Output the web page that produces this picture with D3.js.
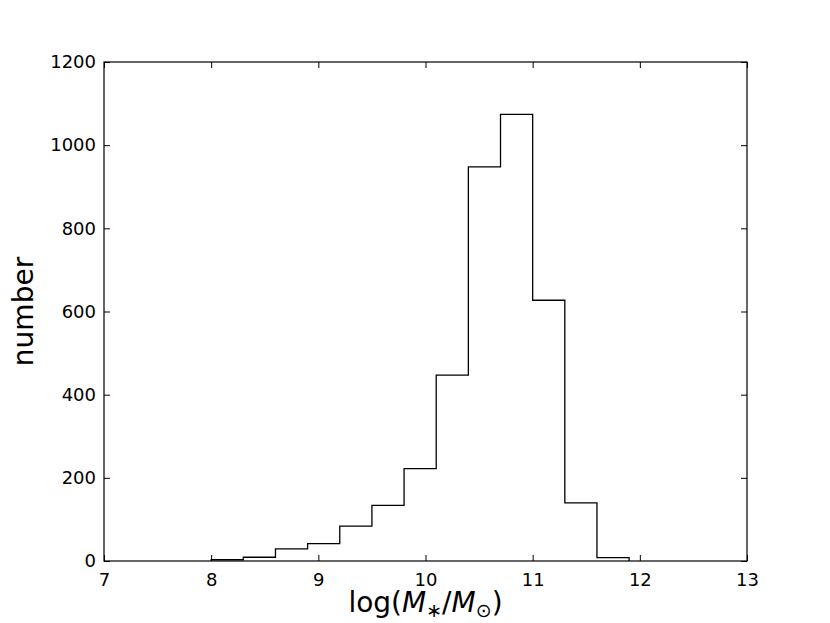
<!DOCTYPE html>
<html>
<head>
<meta charset="utf-8">
<script src="https://cdn.jsdelivr.net/npm/d3@7"></script>
<style>
  body { margin: 0; background: #fff; }
  svg { display: block; }
  text { font-family: "DejaVu Sans", sans-serif; fill: #000; }
</style>
</head>
<body>
<script>
// Histogram bin edges (log M*/Msun) and counts
const binEdges = [8.0, 8.3, 8.6, 8.9, 9.2, 9.5, 9.8, 10.1, 10.4, 10.7, 11.0, 11.3, 11.6, 11.9];
const counts   = [3, 9, 29, 42, 84, 134, 222, 447, 948, 1074, 627, 140, 8];
const xTicks = [7, 8, 9, 10, 11, 12, 13];
const yTicks = [0, 200, 400, 600, 800, 1000, 1200];
const xDomain = [7, 13];
const yDomain = [0, 1200];

const W = 830, H = 623;
const m = { left: 104, right: 83, top: 62, bottom: 62 };

const svg = d3.select("body").append("svg").attr("width", W).attr("height", H);

const x = d3.scaleLinear().domain(xDomain).range([m.left, W - m.right]);
const y = d3.scaleLinear().domain(yDomain).range([H - m.bottom, m.top]);

// Step histogram outline
const pts = [[binEdges[0], 0]];
counts.forEach((c, i) => {
  pts.push([binEdges[i], c]);
  pts.push([binEdges[i + 1], c]);
});
pts.push([binEdges[binEdges.length - 1], 0]);

svg.append("path")
  .attr("d", d3.line().x(d => x(d[0])).y(d => y(d[1]))(pts))
  .attr("fill", "none")
  .attr("stroke", "#000")
  .attr("stroke-width", 1.3)
  .attr("stroke-linejoin", "miter");

// Axes with inward ticks
const tickLen = 6;
const fmt = d3.format("d");
const axB = svg.append("g").attr("transform", `translate(0,${y(0)})`)
  .call(d3.axisBottom(x).tickValues(xTicks).tickFormat(fmt).tickSizeInner(-tickLen).tickSizeOuter(0).tickPadding(12));
const axT = svg.append("g").attr("transform", `translate(0,${y(1200)})`)
  .call(d3.axisTop(x).tickValues(xTicks).tickSizeInner(-tickLen).tickSizeOuter(0).tickFormat(""));
const axL = svg.append("g").attr("transform", `translate(${x(7)},0)`)
  .call(d3.axisLeft(y).tickValues(yTicks).tickFormat(fmt).tickSizeInner(-tickLen).tickSizeOuter(0).tickPadding(8));
const axR = svg.append("g").attr("transform", `translate(${x(13)},0)`)
  .call(d3.axisRight(y).tickValues(yTicks).tickSizeInner(-tickLen).tickSizeOuter(0).tickFormat(""));

[axB, axT, axL, axR].forEach(a => {
  a.select(".domain").remove();
  a.selectAll(".tick line").attr("stroke", "#000").attr("stroke-width", 1);
  a.selectAll("text").attr("font-size", 18).attr("font-family", "DejaVu Sans").attr("fill", "#000");
});

// Frame
svg.append("rect")
  .attr("x", x(7)).attr("y", y(1200))
  .attr("width", x(13) - x(7)).attr("height", y(0) - y(1200))
  .attr("fill", "none").attr("stroke", "#000").attr("stroke-width", 1.2);

// Y label
svg.append("text")
  .attr("transform", `translate(33,${(y(0) + y(1200)) / 2}) rotate(-90)`)
  .attr("text-anchor", "middle")
  .attr("font-size", 28)
  .text("number");

// X label: log(M_*/M_⊙)
const xl = svg.append("text")
  .attr("x", (x(7) + x(13)) / 2)
  .attr("y", 612)
  .attr("text-anchor", "middle")
  .attr("font-size", 28);
xl.append("tspan").text("log(");
xl.append("tspan").attr("font-style", "italic").text("M");
xl.append("tspan").attr("font-size", 19).attr("dy", 5).text("∗");
xl.append("tspan").attr("dy", -5).text("/");
xl.append("tspan").attr("font-style", "italic").text("M");
xl.append("tspan").attr("font-size", 19).attr("dy", 5).text("⊙");
xl.append("tspan").attr("dy", -5).text(")");
</script>
</body>
</html>
